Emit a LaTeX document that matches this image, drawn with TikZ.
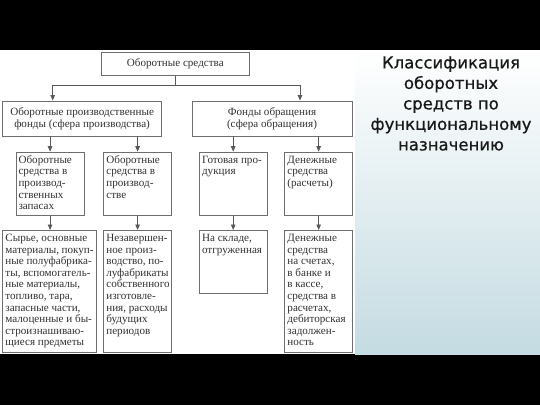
\documentclass[tikz,border=0pt]{standalone}
\usepackage{fontspec}
\setmainfont{Liberation Serif}
\newfontfamily\titlefont[FakeBold=0.7]{DejaVu Sans}
\usetikzlibrary{arrows.meta}

\definecolor{boxgray}{RGB}{110,110,110}
\definecolor{textgray}{RGB}{50,50,50}
\definecolor{panelblue}{RGB}{196,219,226}

% top-aligned text of a fixed-size box: width, height, text
\newcommand{\cellfill}[3]{\parbox[t][#2][t]{#1}{\raggedright\strut #3}}

\begin{document}
\begin{tikzpicture}[x=1pt, y=-1pt,
	box/.style={draw=boxgray, line width=0.9pt, text=textgray, font=\fontsize{11.1}{11.6}\selectfont},
	headbox/.style={box, align=center, inner sep=0pt},
	cell/.style={box, anchor=north west, inner xsep=2.6pt, inner ysep=3pt},
	link/.style={draw=boxgray!80!black, line width=0.8pt, -{Triangle[length=5.5pt, width=4.5pt]}}]
		\useasboundingbox (0,0) rectangle (540,405);
		% frame of the slide
		\fill[black] (0,0) rectangle (540,50);
		\fill[black] (0,354) rectangle (540,405);
		\fill[white] (0,50) rectangle (355,354);
		\shade[top color=white, bottom color=panelblue] (355,50) rectangle (540,354);
		
		\node[text=black!90, align=center, font=\titlefont\fontsize{16.5}{20.5}\selectfont] (title) at (451,103.5)
			{Классификация\\оборотных\\средств по\\функциональному\\назначению};
		
		\node[headbox, minimum width=147.4pt, minimum height=22.7pt] (top) at (175.3,63.7) {Оборотные средства};
		\node[headbox, minimum width=159.4pt, minimum height=35pt] (prod) at (82.1,118.5) {Оборотные производственные\\фонды (сфера производства)};
		\node[headbox, minimum width=160pt, minimum height=35pt] (circ) at (272,118.5) {Фонды обращения\\(сфера обращения)};
		
		\node[cell] (stock) at (15.5,151.7) {\cellfill{63pt}{57.3pt}{Оборотные\\средства в\\производ-\\ственных\\запасах}};
		\node[cell] (work) at (103.3,151.7) {\cellfill{62.5pt}{57.3pt}{Оборотные\\средства в\\производ-\\стве}};
		\node[cell] (goods) at (199,151.7) {\cellfill{62.3pt}{57.3pt}{Готовая про-\\дукция}};
		\node[cell] (cash) at (284.4,151.7) {\cellfill{62.4pt}{57.3pt}{Денежные\\средства\\(расчеты)}};
		
		\node[cell] (stockx) at (2.4,230) {\cellfill{88.1pt}{115.7pt}{Сырье, основные\\материалы, покуп-\\ные полуфабрика-\\ты, вспомогатель-\\ные материалы,\\топливо, тара,\\запасные части,\\малоценные и бы-\\строизнашиваю-\\щиеся предметы}};
		\node[cell] (workx) at (103.3,230) {\cellfill{62.5pt}{115.7pt}{Незавершен-\\ное произ-\\водство, по-\\луфабрикаты\\собственного\\изготовле-\\ния, расходы\\будущих\\периодов}};
		\node[cell] (goodsx) at (199,230) {\cellfill{62.3pt}{57.3pt}{На складе,\\отгруженная}};
		\node[cell] (cashx) at (284.4,230) {\cellfill{62.4pt}{115.7pt}{Денежные\\средства\\на счетах,\\в банке и\\в кассе,\\средства в\\расчетах,\\дебиторская\\задолжен-\\ность}};
		
		\draw[draw=boxgray!80!black, line width=0.8pt] (top.south) -- (top.south |- 0,85.7) coordinate (split);
		\draw[link] (split) -| ([xshift=-29.4pt]prod.north);
		\draw[link] (split) -| ([xshift=28pt]circ.north);
		
		\draw[link] (stock.north |- prod.south) -- (stock.north);
		\draw[link] (work.north |- prod.south) -- (work.north);
		\draw[link] (goods.north |- circ.south) -- (goods.north);
		\draw[link] (cash.north |- circ.south) -- (cash.north);
		
		\draw[link] (stock.south) -- (stock.south |- stockx.north);
		\draw[link] (work.south) -- (workx.north);
		\draw[link] (goods.south) -- (goodsx.north);
		\draw[link] (cash.south) -- (cashx.north);
		
		\end{tikzpicture}
\end{document}
